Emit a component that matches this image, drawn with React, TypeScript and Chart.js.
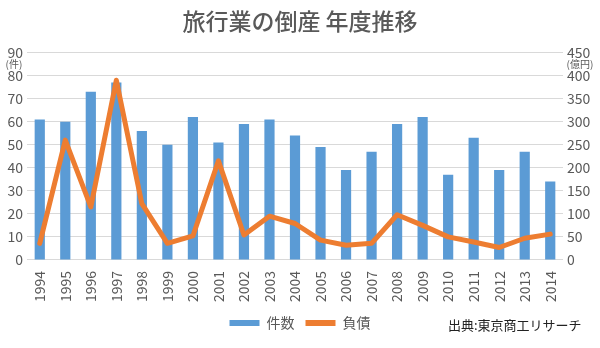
import React, { useEffect, useRef } from "react";
import { Chart, registerables } from "chart.js";

Chart.register(...registerables);

const years = ["1994","1995","1996","1997","1998","1999","2000","2001","2002","2003","2004","2005","2006","2007","2008","2009","2010","2011","2012","2013","2014"];
const counts = [61, 60, 73, 77, 56, 50, 62, 51, 59, 61, 54, 49, 39, 47, 59, 62, 37, 53, 39, 47, 34];
const debts = [36, 260, 115, 390, 122, 36, 52, 215, 54, 95, 79, 43, 32, 36, 98, 75, 50, 39, 27, 47, 56];
const leftTicksMax = 90;
const rightTicksMax = 450;
const titleText = "旅行業の倒産 年度推移";
const seriesNames = ["件数", "負債"];
const leftUnit = "(件)";
const rightUnit = "(億円)";
const sourceText = "出典:東京商工リサーチ";

const BLUE = "#5B9BD5";
const ORANGE = "#ED7D31";
const TEXT = "#595959";
const FONT = "'Noto Sans CJK JP', 'Noto Sans', sans-serif";

const extrasPlugin = {
  id: "extras",
  afterDraw(chart: any) {
    const ctx = chart.ctx;
    const yL = chart.scales.y;
    const top = yL.getPixelForValue(leftTicksMax);
    ctx.save();
    ctx.fillStyle = TEXT;
    ctx.font = `10px ${FONT}`;
    ctx.textBaseline = "middle";
    ctx.textAlign = "center";
    ctx.fillText(leftUnit, 14, top + 12);
    ctx.fillText(rightUnit, 580, top + 12);
    ctx.font = `13px ${FONT}`;
    ctx.fillStyle = "#222";
    ctx.textAlign = "left";
    ctx.fillText(sourceText, 448, 325);
    ctx.restore();
  },
};

export default function App() {
  const ref = useRef<HTMLCanvasElement>(null);
  useEffect(() => {
    const chart = new Chart(ref.current!, {
      type: "bar",
      data: {
        labels: years,
        datasets: [
          {
            type: "bar",
            label: seriesNames[0],
            data: counts,
            backgroundColor: BLUE,
            yAxisID: "y",
            order: 1,
            barPercentage: 0.4,
            categoryPercentage: 1,
          },
          {
            type: "line",
            label: seriesNames[1],
            data: debts,
            borderColor: ORANGE,
            backgroundColor: ORANGE,
            borderWidth: 5,
            pointRadius: 0,
            tension: 0,
            borderJoinStyle: "round",
            borderCapStyle: "round",
            yAxisID: "y1",
            order: 0,
          } as any,
        ],
      },
      options: {
        responsive: false,
        animation: false,
        layout: { padding: { left: 0, right: 0, top: 0, bottom: 8 } },
        plugins: {
          title: {
            display: true,
            text: titleText,
            color: TEXT,
            font: { family: FONT, size: 23, weight: "500" },
            padding: { top: 7, bottom: 18 },
          },
          legend: {
            position: "bottom",
            labels: {
              color: TEXT,
              font: { family: FONT, size: 14 },
              boxWidth: 30,
              boxHeight: 6,
              padding: 11,
              generateLabels: (c: any) =>
                c.data.datasets.map((d: any, i: number) => ({
                  text: d.label,
                  fillStyle: i === 0 ? BLUE : ORANGE,
                  strokeStyle: i === 0 ? BLUE : ORANGE,
                  lineWidth: 0,
                  datasetIndex: i,
                  fontColor: TEXT,
                })),
            },
          },
          tooltip: { enabled: false },
        },
        scales: {
          x: {
            grid: { display: false },
            border: { display: false },
            ticks: {
              color: TEXT,
              font: { family: FONT, size: 14 },
              maxRotation: 90,
              minRotation: 90,
              autoSkip: false,
              padding: 3,
            },
          },
          y: {
            position: "left",
            min: 0,
            max: leftTicksMax,
            ticks: { stepSize: 10, color: TEXT, font: { family: FONT, size: 14 }, padding: 4 },
            grid: { color: "#d9d9d9", drawTicks: false },
            border: { display: false },
            afterFit: (s: any) => { s.width = 27; },
          },
          y1: {
            position: "right",
            min: 0,
            max: rightTicksMax,
            ticks: { stepSize: 50, color: TEXT, font: { family: FONT, size: 14 }, padding: 4 },
            grid: { display: false, drawTicks: false },
            border: { display: false },
            afterFit: (s: any) => { s.width = 37; },
          },
        },
      },
      plugins: [extrasPlugin],
    });
    return () => chart.destroy();
  }, []);
  return (
    <div style={{ position: "absolute", left: 0, top: 0, width: 600, height: 348, background: "#fff" }}>
      <canvas ref={ref} width={600} height={348} />
    </div>
  );
}
